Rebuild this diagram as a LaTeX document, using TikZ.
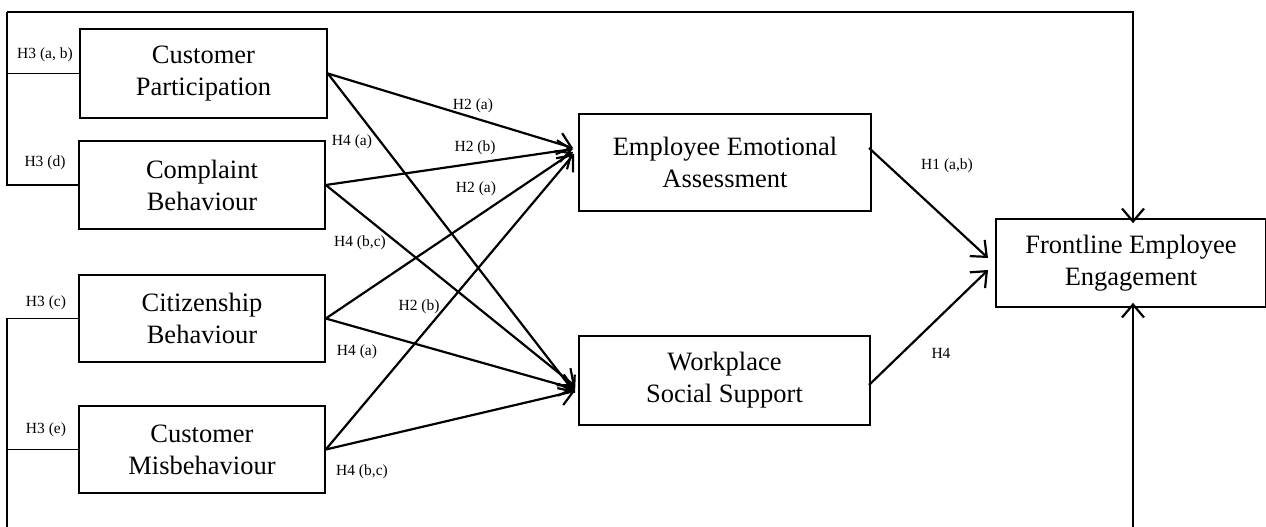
\documentclass[tikz,border=0pt]{standalone}
\usepackage{fontspec}
\setmainfont{Liberation Serif}
\usetikzlibrary{arrows.meta}

\begin{document}
\begin{tikzpicture}[x=1pt,y=-1pt,
  box/.style={draw,line width=1.6pt,rectangle,align=center,
    font=\fontsize{26.5}{32}\selectfont,inner sep=0pt},
  lbl/.style={font=\fontsize{15.5}{17}\selectfont,inner sep=0pt},
  link/.style={line width=2.2pt,-{Straight Barb[length=13pt,width=22pt,line width=2.2pt]}},
  wire/.style={line width=1.6pt}]
\useasboundingbox (0,0) rectangle (1266,527);
% left column
\node[box,minimum width=247pt,minimum height=89pt] (cp) at (203.5,73.5) {Customer\\Participation};
\node[box,minimum width=246pt,minimum height=88pt] (cb) at (202,185) {Complaint\\Behaviour};
\node[box,minimum width=246pt,minimum height=87pt] (cit) at (202,318.5) {Citizenship\\Behaviour};
\node[box,minimum width=246pt,minimum height=87pt] (cm) at (202,449.5) {Customer\\Misbehaviour};
% mediators and outcome
\node[box,minimum width=292pt,minimum height=97pt] (eea) at (725,162.5) {Employee Emotional\\Assessment};
\node[box,minimum width=291pt,minimum height=89pt] (wss) at (724.5,380.5) {Workplace\\Social Support};
\node[box,minimum width=270pt,minimum height=88pt] (fee) at (1131,263) {Frontline Employee\\Engagement};

\coordinate (eeaA) at (573,148);
\coordinate (eeaB) at (573,149);
\coordinate (eeaC) at (573,152);
\coordinate (eeaD) at (574,154);
\coordinate (wssA) at (575,393);
\coordinate (wssB) at (575,386);
\coordinate (wssC) at (575,389);
\coordinate (wssD) at (575,391);
\coordinate (feeA) at (988,258);
\coordinate (feeB) at (988,270);
\coordinate (eeaOut) at (869,148);
\coordinate (wssOut) at (869,385);

% H2 / H4 paths
\draw[link] (cp.east) -- (eeaA);
\draw[link] (cb.east) -- (eeaB);
\draw[link] (cit.east) -- (eeaC);
\draw[link] (cm.east) -- (eeaD);
\draw[link] (cp.east) -- (wssA);
\draw[link] (cb.east) -- (wssB);
\draw[link] (cit.east) -- (wssC);
\draw[link] (cm.east) -- (wssD);
% H1 / H4 to outcome
\draw[link] (eeaOut) -- (feeA);
\draw[link] (wssOut) -- (feeB);

% H3 loops
\coordinate (topL) at (7,12);
\coordinate (botL) at (7,527);
\coordinate (botR) at (1133,527);
\draw[wire] (cp.west) -- (cp.west -| topL);
\draw[wire] (cb.west) -- (cb.west -| topL) -- (topL);
\draw[link] (topL) -| ([xshift=2pt,yshift=-5pt]fee.north);
\draw[wire] (cit.west) -- (cit.west -| botL) -- (botL);
\draw[wire] (cm.west) -- (cm.west -| botL);
\draw[link] (botR) -- ([xshift=2pt,yshift=5pt]fee.south);

% labels
\node[lbl] (h3ab) at (45,55) {H3 (a, b)};
\node[lbl] (h3d) at (45,163) {H3 (d)};
\node[lbl] (h3c) at (46,303) {H3 (c)};
\node[lbl] (h3e) at (46,430) {H3 (e)};
\node[lbl] (h2a) at (473,106) {H2 (a)};
\node[lbl] (h4a) at (352,142) {H4 (a)};
\node[lbl] (h2b) at (475,148) {H2 (b)};
\node[lbl] (h2a2) at (476,189) {H2 (a)};
\node[lbl] (h4bc) at (360,243) {H4 (b,c)};
\node[lbl] (h2b2) at (419,307) {H2 (b)};
\node[lbl] (h4a2) at (357,352) {H4 (a)};
\node[lbl] (h4bc2) at (362,472) {H4 (b,c)};
\node[lbl] (h1ab) at (947,166) {H1 (a,b)};
\node[lbl] (h4) at (941,353) {H4};
\end{tikzpicture}
\end{document}
